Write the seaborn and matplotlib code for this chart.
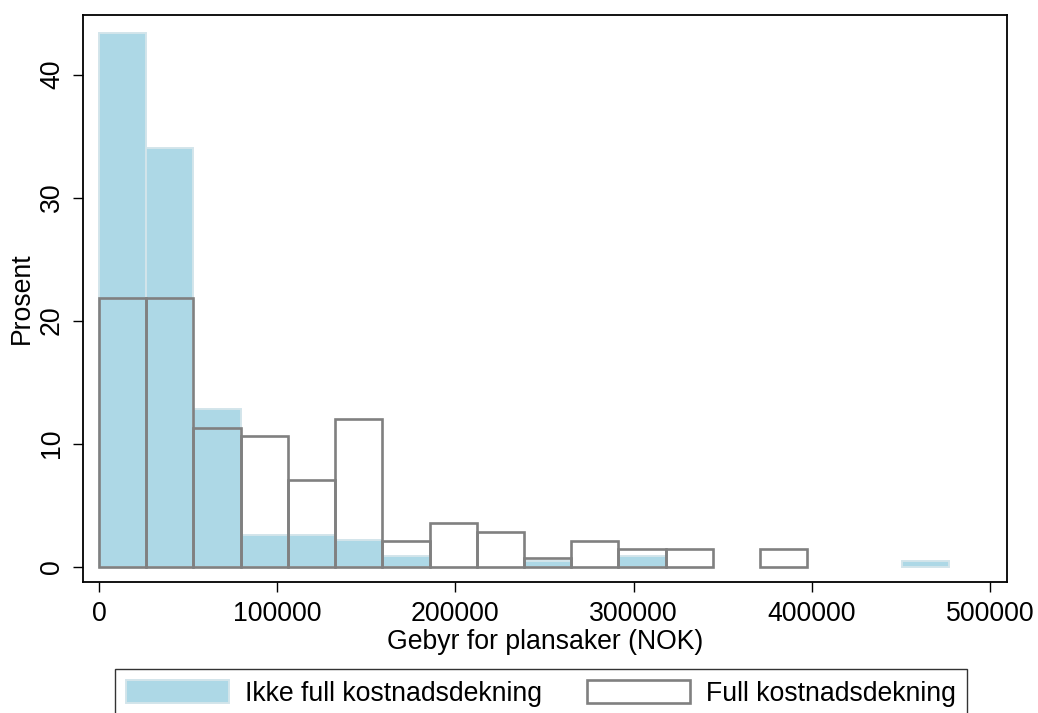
import numpy as np
import pandas as pd
import matplotlib
matplotlib.use("Agg")
import matplotlib.pyplot as plt
from matplotlib.patches import Patch
import seaborn as sns

# ---- data (percent of municipalities per fee bin) ----
bin_width = 26500
n_bins = 18
ikke_full_pct = [43.4, 34.0, 12.8, 2.55, 2.55, 2.13, 0.85, 0.0, 0.0, 0.43,
                 0.0, 0.85, 0.0, 0.0, 0.0, 0.0, 0.0, 0.43]
full_pct = [21.8, 21.8, 11.3, 10.6, 7.04, 12.0, 2.11, 3.52, 2.82, 0.70,
            2.11, 1.41, 1.41, 0.0, 1.41, 0.0, 0.0, 0.0]
series_labels = ["Ikke full kostnadsdekning", "Full kostnadsdekning"]
x_ticks = [0, 100000, 200000, 300000, 400000, 500000]
y_ticks = [0, 10, 20, 30, 40]
x_label = "Gebyr for plansaker (NOK)"
y_label = "Prosent"

edges = np.arange(n_bins + 1) * bin_width
centers = edges[:-1] + bin_width / 2
df = pd.DataFrame({"gebyr": centers, "ikke": ikke_full_pct, "full": full_pct})

sns.set_style("white")
plt.rcParams["font.family"] = ["Liberation Sans", "DejaVu Sans"]
plt.rcParams["text.color"] = "black"
plt.rcParams["axes.labelcolor"] = "black"
plt.rcParams["xtick.color"] = "black"
plt.rcParams["ytick.color"] = "black"
FS = 19.2

fig = plt.figure(figsize=(10.38, 7.13), dpi=100)
ax = fig.add_axes([83 / 1038, 1 - 582 / 713, 924 / 1038, 567 / 713])

blue = "#add8e6"
blue_edge = "#d3e5eb"
gray = "#808080"

brange = (0, n_bins * bin_width)
sns.histplot(data=df, x="gebyr", weights="ikke", binwidth=bin_width, binrange=brange,
             ax=ax, color=blue, edgecolor=blue_edge, linewidth=1.4, alpha=1.0)
sns.histplot(data=df, x="gebyr", weights="full", binwidth=bin_width, binrange=brange,
             ax=ax, fill=False, color=gray, edgecolor=gray, linewidth=1.9)
for p in ax.patches:
    if p.get_height() == 0:
        p.set_visible(False)

ax.set_xlim(-8979, 509540)
ax.set_ylim(-1.26, 44.84)
ax.set_xticks(x_ticks)
ax.set_xticklabels([str(v) for v in x_ticks], fontsize=FS, color="black")
ax.set_yticks(y_ticks)
ax.set_yticklabels([str(v) for v in y_ticks], fontsize=FS, rotation=90, va="center",
                   color="black")
ax.tick_params(axis="both", which="major", direction="out", length=7, width=1.0,
               color="black", bottom=True, left=True)
ax.tick_params(axis="x", pad=7)
ax.tick_params(axis="y", pad=6)
ax.set_xlabel(x_label, fontsize=FS, labelpad=1, color="black")
ax.set_ylabel(y_label, fontsize=FS, labelpad=3, color="black")
for s in ax.spines.values():
    s.set_visible(True)
    s.set_color("black")
    s.set_linewidth(1.3)

handles = [Patch(facecolor=blue, edgecolor=blue_edge, linewidth=1.4),
           Patch(facecolor="white", edgecolor=gray, linewidth=1.9)]
leg = fig.legend(handles, series_labels, loc="upper left",
                 bbox_to_anchor=(115 / 1038, 1 - 669 / 713), ncol=2,
                 fontsize=FS, frameon=True, fancybox=False,
                 handlelength=3.85, handleheight=0.95, handletextpad=0.6,
                 columnspacing=1.7, borderpad=0.42, borderaxespad=0)
leg.get_frame().set_edgecolor("black")
leg.get_frame().set_linewidth(1.0)
for t in leg.get_texts():
    t.set_color("black")

fig.savefig("out.png", dpi=100)
